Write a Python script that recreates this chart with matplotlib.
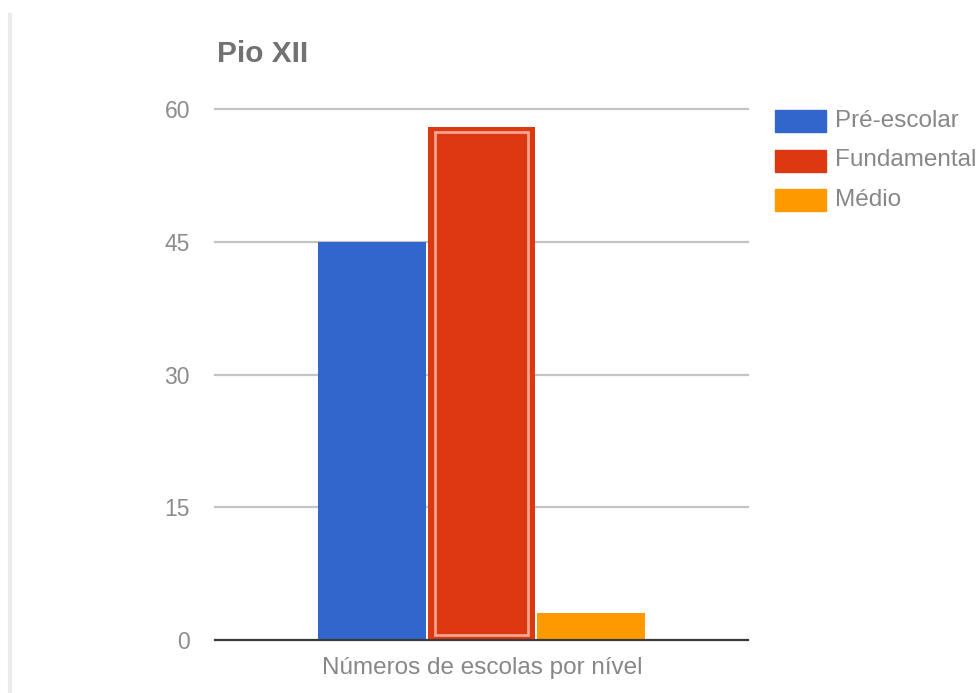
import matplotlib.pyplot as plt
from matplotlib.patches import Rectangle
from matplotlib.lines import Line2D

# Escolas por nível - Pio XII
niveis = ["Pré-escolar", "Fundamental", "Médio"]
escolas = [45, 58, 3]
cores = ["#3366cc", "#dc3912", "#ff9900"]
yticks = [0, 15, 30, 45, 60]
titulo = "Pio XII"
xlabel = "Números de escolas por nível"

plt.rcParams['font.family'] = ['Liberation Sans', 'DejaVu Sans']
texto = "#878787"

fig = plt.figure(figsize=(9.76, 6.93), dpi=100)
ax = fig.add_axes([215/976, 1-640/693, 533/976, 531/693])

pos = list(range(len(niveis)))
bars = ax.bar(pos, escolas, width=0.98, color=cores, zorder=3)

# barra selecionada (Fundamental) com contorno claro interno
sel = 1
px_x = 3.435*2/533   # unidades de dados por pixel (x)
px_y = 60/531        # unidades de dados por pixel (y)
b = bars[sel]
ax.add_patch(Rectangle((b.get_x()+5*px_x, 5*px_y), b.get_width()-10*px_x,
                       escolas[sel]-10*px_y, fill=False, edgecolor="#f2a58f",
                       linewidth=2, zorder=4))

ax.set_xlim(-1.435, 3.435)
ax.set_ylim(0, 60)
ax.set_yticks(yticks)
ax.set_xticks([])
for t in yticks[1:]:
    ax.axhline(t, color="#c4c4c4", linewidth=1.6, zorder=1, clip_on=False)
ax.axhline(0, color="#3a3a3a", linewidth=1.6, zorder=5, clip_on=False)
for s in ax.spines.values():
    s.set_visible(False)
ax.tick_params(axis='y', length=0, pad=18, labelsize=16.5, labelcolor="#8c8c8c")

fig.text(482/976, 1-668/693, xlabel, ha='center', va='center',
         fontsize=17.5, color=texto)
fig.text(217/976, 1-54/693, titulo, ha='left', va='center',
         fontsize=21.5, fontweight='bold', color="#727272")

# legenda
for i, (nome, cor) in enumerate(zip(niveis, cores)):
    yc = 121 + i*39.5
    fig.patches.append(Rectangle((775/976, 1-(yc+11)/693), 51/976, 22/693,
                                 transform=fig.transFigure, color=cor))
    fig.text(835/976, 1-yc/693, nome, ha='left', va='center',
             fontsize=17.5, color=texto)

# borda cinza à esquerda
fig.add_artist(Line2D([10/976, 10/976], [0, 1-15/693], transform=fig.transFigure,
                      color="#ececec", linewidth=3))

fig.savefig("out.png", dpi=100)
